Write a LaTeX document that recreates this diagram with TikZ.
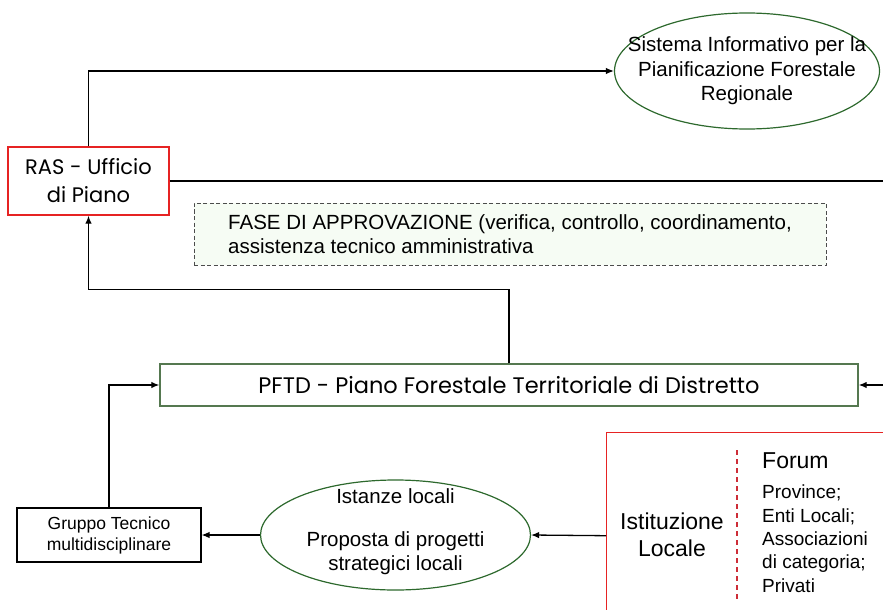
\documentclass[tikz,border=0pt]{standalone}
\usepackage{fontspec}
\setmainfont{Liberation Sans}
\newfontfamily\geofont{Poppins}
\usepackage{tikz}
\usetikzlibrary{arrows.meta,shapes.geometric}
\definecolor{rasred}{RGB}{230,35,35}
\definecolor{sepred}{RGB}{205,45,55}
\definecolor{ellgreen}{RGB}{45,105,45}
\definecolor{pftdgreen}{RGB}{85,120,80}
\definecolor{fasefill}{RGB}{246,252,244}

\begin{document}
\begin{tikzpicture}[x=1pt,y=-1pt,
    arr/.style={-{Latex[length=8pt,width=6.5pt]}, line width=1.3pt},
    conn/.style={line width=1.3pt},
    redbox/.style={draw=rasred, line width=1.4pt},
    greenell/.style={ellipse, draw=ellgreen, line width=1.2pt}]
    \useasboundingbox (0,0) rectangle (883,610);
    %%Ufficio_di_piano
    \node[redbox, minimum width=161, minimum height=68, align=center,
        font=\geofont\fontsize{21}{28}\selectfont] (ras) at (88.5,181) {RAS - Ufficio\\di Piano};
    \coordinate (rasend) at (883,181);
    \draw[conn] (ras.east) -- (rasend);
    %%Sistema_informativo
    \node[greenell, minimum width=265, minimum height=116] (sis) at (747,71) {};
    \node[align=center, font=\fontsize{20.5}{24.5}\selectfont] (sistxt) at (sis) {Sistema Informativo per la\\Pianificazione Forestale\\Regionale};
    \draw[arr] (ras.north) |- (sis.west);
    %%approvazione
    \node[draw=black!70, dash pattern=on 4pt off 2.5pt, line width=1pt, fill=fasefill,
        minimum width=632, minimum height=62, align=left,
        font=\fontsize{20.5}{24}\selectfont] (fase) at (510,234)
        {FASE DI APPROVAZIONE (verifica, controllo, coordinamento,\\assistenza tecnico amministrativa};
    %%PFTD
    \node[draw=pftdgreen, line width=1.4pt, minimum width=698, minimum height=42,
        font=\geofont\fontsize{22.5}{24}\selectfont] (pftd) at (509,385) {PFTD - Piano Forestale Territoriale di Distretto};
    \draw[arr] (pftd.north) -- ++(0,-74) -| (ras.south);
    \coordinate (pftdin) at (883,385);
    \draw[arr] (pftdin) -- (pftd.east);
    %%gruppo_tecnico
    \node[draw, line width=1.1pt, minimum width=184, minimum height=54, align=center,
        font=\fontsize{17.5}{21}\selectfont] (gruppo) at (109,535) {Gruppo Tecnico\\multidisciplinare};
    \draw[arr] (gruppo.north) |- (pftd.west);
    %%istanze
    \node[greenell, minimum width=270, minimum height=110] (ist) at (395.5,535) {};
    \node[align=center, font=\fontsize{20.5}{24}\selectfont] (isttxt) at (395.5,532)
        {Istanze locali\\[19pt]Proposta di progetti\\strategici locali};
    \draw[arr] (ist.west) -- (gruppo.east);
    %%istituzione_locale
    \node[redbox, anchor=north west, minimum width=300, minimum height=206] (loc) at (606,432) {};
    \draw[arr] (loc.west) -- (ist.east);
    \coordinate (sepa) at (737,450);
    \coordinate (sepb) at (737,602);
    \draw[sepred, line width=1.2pt, dash pattern=on 5pt off 4pt] (sepa) -- (sepb);
    \node[align=center, font=\fontsize{23}{27}\selectfont] (istloc) at (672,535) {Istituzione\\Locale};
    \node[anchor=west, inner sep=0, font=\fontsize{23}{27}\selectfont] (forum) at (762,461) {Forum};
    \node[anchor=north west, inner sep=0, align=left, font=\fontsize{19}{23.3}\selectfont] (members) at (762,485)
        {Province;\\Enti Locali;\\Associazioni\\di categoria;\\Privati};
\end{tikzpicture}
\end{document}
